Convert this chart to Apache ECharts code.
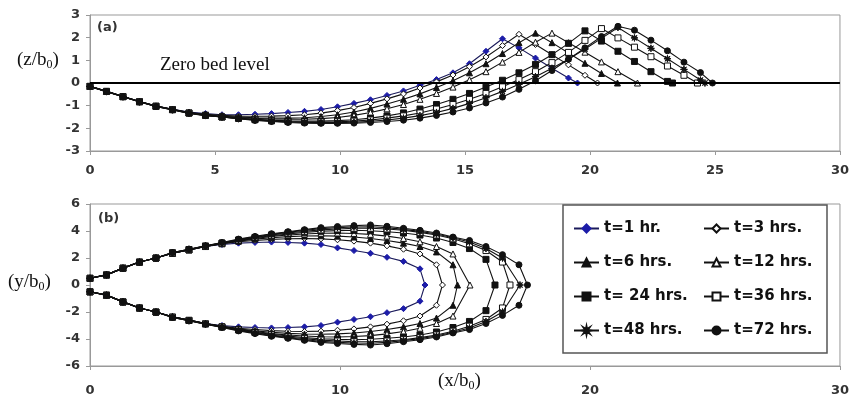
<!DOCTYPE html>
<html><head><meta charset="utf-8">
<script src="https://cdn.jsdelivr.net/npm/echarts@6/dist/echarts.min.js"></script>
<style>html,body{margin:0;padding:0;background:#fff}#c{width:852px;height:397px}</style>
</head><body><div id="c"></div>
<script>
// ---- data ----
const SERIES_NAMES = ['t=1 hr.', 't=3 hrs.', 't=6 hrs.', 't=12 hrs.', 't= 24 hrs.', 't=36 hrs.', 't=48 hrs.', 't=72 hrs.'];
const X_GRID = [0,0.66,1.32,1.98,2.64,3.3,3.96,4.62,5.28,5.94,6.6,7.26,7.92,8.58,9.24,9.9,10.56,11.22,11.88,12.54,13.2,13.86,14.52,15.18,15.84,16.5,17.16,17.82,18.48,19.14,19.8,20.46,21.12,21.78,22.44,23.1,23.76,24.42];

// (a) longitudinal bed profile z/b0
const Z_T1  = [-0.15,-0.37,-0.6,-0.82,-1.02,-1.16,-1.28,-1.35,-1.4,-1.4,-1.38,-1.35,-1.3,-1.25,-1.17,-1.05,-0.9,-0.74,-0.55,-0.35,-0.1,0.15,0.45,0.85,1.4,1.95,1.55,1.1,0.65,0.22];
const Z_T3  = [-0.15,-0.37,-0.6,-0.82,-1.02,-1.16,-1.3,-1.38,-1.43,-1.46,-1.47,-1.46,-1.44,-1.4,-1.33,-1.22,-1.08,-0.9,-0.7,-0.48,-0.22,0.05,0.35,0.72,1.15,1.65,2.15,1.7,1.25,0.8,0.34];
const Z_T6  = [-0.15,-0.37,-0.6,-0.82,-1.02,-1.16,-1.3,-1.4,-1.47,-1.5,-1.53,-1.55,-1.55,-1.53,-1.48,-1.4,-1.28,-1.12,-0.93,-0.72,-0.48,-0.2,0.1,0.45,0.85,1.3,1.78,2.2,1.78,1.32,0.87,0.42];
const Z_T12 = [-0.15,-0.37,-0.6,-0.82,-1.02,-1.17,-1.31,-1.41,-1.48,-1.52,-1.56,-1.59,-1.6,-1.6,-1.57,-1.52,-1.43,-1.3,-1.14,-0.95,-0.72,-0.46,-0.18,0.14,0.5,0.92,1.35,1.8,2.2,1.78,1.36,0.93,0.5];
const Z_T24 = [-0.15,-0.37,-0.6,-0.82,-1.02,-1.17,-1.32,-1.42,-1.5,-1.55,-1.6,-1.64,-1.67,-1.68,-1.68,-1.66,-1.62,-1.55,-1.45,-1.32,-1.15,-0.95,-0.72,-0.46,-0.18,0.12,0.45,0.82,1.25,1.75,2.3,1.85,1.4,0.95,0.5,0.07];
const Z_T36 = [-0.15,-0.37,-0.6,-0.83,-1.03,-1.18,-1.33,-1.43,-1.5,-1.56,-1.62,-1.67,-1.7,-1.72,-1.72,-1.71,-1.68,-1.63,-1.55,-1.45,-1.32,-1.15,-0.95,-0.72,-0.46,-0.17,0.15,0.5,0.9,1.35,1.88,2.4,1.99,1.58,1.16,0.75,0.34];
const Z_T48 = [-0.15,-0.38,-0.61,-0.83,-1.03,-1.18,-1.33,-1.43,-1.5,-1.57,-1.63,-1.68,-1.72,-1.74,-1.75,-1.75,-1.73,-1.69,-1.63,-1.55,-1.44,-1.3,-1.12,-0.9,-0.65,-0.37,-0.06,0.28,0.65,1.05,1.5,1.97,2.45,1.99,1.53,1.07,0.6,0.13];
const Z_T72 = [-0.15,-0.38,-0.61,-0.84,-1.04,-1.19,-1.34,-1.44,-1.5,-1.58,-1.65,-1.7,-1.74,-1.77,-1.78,-1.78,-1.77,-1.74,-1.7,-1.64,-1.55,-1.43,-1.28,-1.1,-0.88,-0.62,-0.28,0.1,0.55,1.05,1.55,2.05,2.5,2.33,1.89,1.42,0.92,0.46];
const PROFILE_END_X = [19.5, 20.3, 21.1, 21.9, 23.3, 24.3, 24.6, 24.9];

// (b) planform half-width y/b0 (symmetric about the centreline)
const W_T1  = [0.5,0.75,1.25,1.7,2.0,2.35,2.6,2.85,3.0,3.1,3.15,3.18,3.15,3.1,3.0,2.75,2.55,2.35,2.05,1.75,1.2];
const W_T3  = [0.5,0.75,1.25,1.7,2.0,2.35,2.6,2.85,3.05,3.2,3.3,3.38,3.43,3.45,3.42,3.35,3.25,3.1,2.9,2.65,2.3,1.5];
const W_T6  = [0.5,0.75,1.25,1.7,2.0,2.35,2.6,2.85,3.05,3.25,3.4,3.5,3.58,3.63,3.65,3.62,3.55,3.45,3.3,3.1,2.85,2.45,1.5];
const W_T12 = [0.5,0.75,1.25,1.7,2.0,2.35,2.6,2.85,3.08,3.28,3.45,3.6,3.7,3.78,3.83,3.85,3.82,3.75,3.62,3.45,3.2,2.85,2.3];
const W_T24 = [0.5,0.75,1.25,1.7,2.0,2.38,2.62,2.88,3.1,3.3,3.5,3.65,3.78,3.9,3.98,4.03,4.05,4.02,3.95,3.85,3.7,3.48,3.15,2.7,1.9];
const W_T36 = [0.5,0.75,1.25,1.7,2.0,2.38,2.62,2.88,3.1,3.33,3.52,3.7,3.85,3.98,4.08,4.15,4.2,4.2,4.15,4.05,3.9,3.7,3.42,3.05,2.55,1.7];
const W_T48 = [0.5,0.75,1.25,1.7,2.0,2.4,2.65,2.9,3.12,3.36,3.56,3.75,3.9,4.05,4.17,4.25,4.3,4.32,4.25,4.12,3.97,3.78,3.5,3.18,2.7,2.0];
const W_T72 = [0.5,0.75,1.25,1.7,2.0,2.4,2.65,2.9,3.15,3.4,3.6,3.8,3.95,4.1,4.25,4.33,4.4,4.45,4.35,4.2,4.05,3.85,3.55,3.3,2.85,2.25,1.5];
const TIP_X = [13.4, 14.1, 14.7, 15.2, 16.2, 16.8, 17.2, 17.5];

const X_TICKS_A = [0,5,10,15,20,25,30];
const Y_TICKS_A = [-3,-2,-1,0,1,2,3];
const X_TICKS_B = [0,10,20,30];
const Y_TICKS_B = [-6,-4,-2,0,2,4,6];

// ---- styles ----
const STAR = 'path://M10,5 L6.66,5.69 L8.54,8.54 L5.69,6.66 L5,10 L4.31,6.66 L1.46,8.54 L3.34,5.69 L0,5 L3.34,4.31 L1.46,1.46 L4.31,3.34 L5,0 L5.69,3.34 L8.54,1.46 L6.66,4.31 Z';
const STY = [
  {symbol:'diamond', size:6, fill:'#1c1ca8', border:'#1c1ca8', line:'#1a1a5a'},
  {symbol:'diamond', size:6, fill:'#ffffff', border:'#111', line:'#111'},
  {symbol:'triangle', size:6, fill:'#111', border:'#111', line:'#111'},
  {symbol:'triangle', size:6, fill:'#ffffff', border:'#111', line:'#111'},
  {symbol:'rect', size:6, fill:'#111', border:'#111', line:'#111'},
  {symbol:'rect', size:6, fill:'#ffffff', border:'#111', line:'#111'},
  {symbol:STAR, size:7, fill:'#111', border:'#111', line:'#111'},
  {symbol:'circle', size:6, fill:'#111', border:'#111', line:'#111'}
];
const PROFILES = [Z_T1,Z_T3,Z_T6,Z_T12,Z_T24,Z_T36,Z_T48,Z_T72];
const WIDTHS = [W_T1,W_T3,W_T6,W_T12,W_T24,W_T36,W_T48,W_T72];

function mkSeries(i, data, axisIdx) {
  const s = STY[i];
  return {
    name: SERIES_NAMES[i], type:'line', xAxisIndex:axisIdx, yAxisIndex:axisIdx,
    data: data, symbol: s.symbol, symbolSize: s.size, showSymbol:true,
    lineStyle:{color:s.line, width:1.1},
    itemStyle:{color:s.fill, borderColor:s.border, borderWidth:1},
    emphasis:{disabled:true}, animation:false, z: 2 + i*0.01
  };
}
const series = [];
PROFILES.forEach((z,i) => {
  const d = z.map((v,k) => [X_GRID[k], v]);
  d.push([PROFILE_END_X[i], 0]);
  const s = mkSeries(i, d, 0);
  if (i === 0) {
    s.markLine = {silent:true, symbol:['none','none'], label:{show:false},
      lineStyle:{color:'#000', width:2, type:'solid'}, data:[{yAxis:0}], animation:false};
  }
  series.push(s);
});
WIDTHS.forEach((w,i) => {
  const upper = w.map((v,k) => [X_GRID[k], v]);
  const lower = w.map((v,k) => [X_GRID[k], -v]).reverse();
  const d = upper.concat([[TIP_X[i], 0]], lower);
  series.push(mkSeries(i, d, 1));
});

const tickFont = {fontFamily:'DejaVu Sans', fontWeight:'bold', fontSize:13, color:'#333'};
function xAx(idx, ticks, margin) {
  return {type:'value', gridIndex:idx, min:ticks[0], max:ticks[ticks.length-1], interval:ticks[1]-ticks[0],
    axisLine:{show:true, onZero:false, lineStyle:{color:'#999', width:1}},
    axisTick:{show:true, length:4, lineStyle:{color:'#999'}},
    splitLine:{show:false}, axisLabel:Object.assign({margin:margin}, tickFont)};
}
function yAx(idx, ticks) {
  return {type:'value', gridIndex:idx, min:ticks[0], max:ticks[ticks.length-1], interval:ticks[1]-ticks[0],
    axisLine:{show:true, onZero:false, lineStyle:{color:'#999', width:1}},
    axisTick:{show:true, length:4, lineStyle:{color:'#999'}},
    splitLine:{show:false}, axisLabel:Object.assign({margin:10}, tickFont)};
}

const serif = 'Liberation Serif';
function subLabel(main, x, y) {
  return {type:'text', left:x, top:y, z:10, silent:true,
    style:{text:'{a|(' + main + '/b}{s|0}{a|)}',
      rich:{a:{fontFamily:serif, fontSize:19, fill:'#111', lineHeight:22},
            s:{fontFamily:serif, fontSize:12, fill:'#111', lineHeight:22, verticalAlign:'bottom', padding:[9,0,0,0]}}}};
}

const legendText = {fontFamily:'DejaVu Sans', fontWeight:'bold', fontSize:15, color:'#111'};
const chart = echarts.init(document.getElementById('c'), null, {renderer:'canvas'});
chart.setOption({
  animation:false,
  backgroundColor:'#fff',
  grid:[
    {left:90, right:10, top:15, height:136, show:true, borderColor:'#999', borderWidth:1, backgroundColor:'transparent'},
    {left:90, right:10, top:204, height:162, show:true, borderColor:'#999', borderWidth:1, backgroundColor:'transparent'}
  ],
  xAxis:[xAx(0, X_TICKS_A, 13), xAx(1, X_TICKS_B, 18)],
  yAxis:[yAx(0, Y_TICKS_A), yAx(1, Y_TICKS_B)],
  legend:[
    {left:573, top:221, padding:0, orient:'vertical', itemWidth:25, itemHeight:10, itemGap:19, z:6,
     data:[SERIES_NAMES[0],SERIES_NAMES[2],SERIES_NAMES[4],SERIES_NAMES[6]], textStyle:legendText, selectedMode:false},
    {left:703, top:221, padding:0, orient:'vertical', itemWidth:25, itemHeight:10, itemGap:19, z:6,
     data:[SERIES_NAMES[1],SERIES_NAMES[3],SERIES_NAMES[5],SERIES_NAMES[7]], textStyle:legendText, selectedMode:false}
  ],
  graphic:[
    {type:'rect', z:5, silent:true, shape:{x:563, y:205, width:264, height:148}, style:{fill:'#fff', stroke:'#555', lineWidth:1.5}},
    subLabel('z', 17, 50),
    subLabel('y', 8, 272),
    subLabel('x', 438, 371),
    {type:'text', left:160, top:56, z:10, silent:true, style:{text:'Zero bed level', fontFamily:serif, fontSize:19, fill:'#111'}},
    {type:'text', left:97, top:21, z:10, silent:true, style:{text:'(a)', fontFamily:'DejaVu Sans', fontWeight:'bold', fontSize:13, fill:'#333'}},
    {type:'text', left:98, top:212, z:10, silent:true, style:{text:'(b)', fontFamily:'DejaVu Sans', fontWeight:'bold', fontSize:13, fill:'#333'}}
  ],
  series: series
});
</script>
</body></html>
